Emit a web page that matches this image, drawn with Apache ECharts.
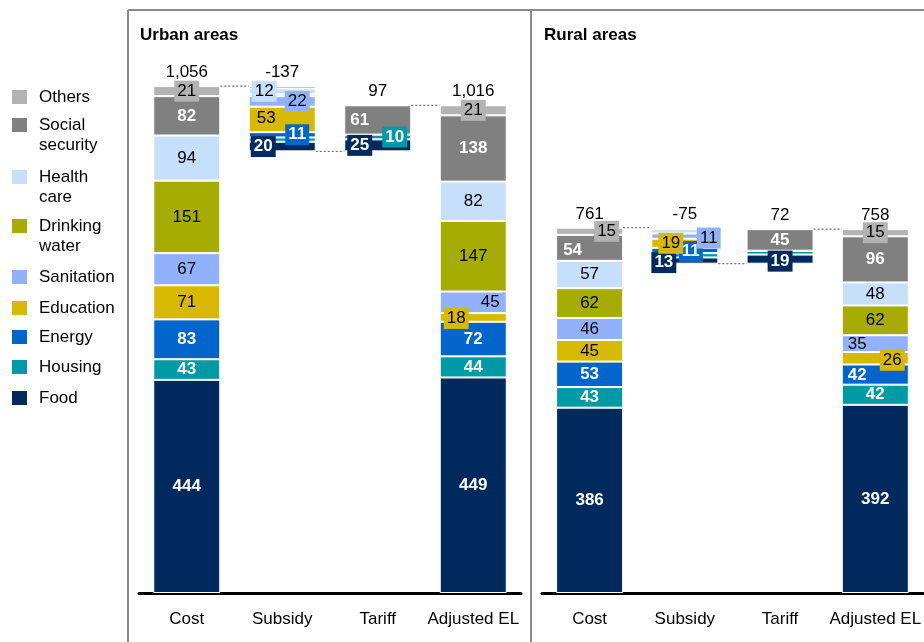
<!DOCTYPE html>
<html>
<head>
<meta charset="utf-8">
<title>Urban and rural areas</title>
<script src="https://cdn.jsdelivr.net/npm/echarts@6/dist/echarts.min.js"></script>
<style>
  html, body { margin: 0; padding: 0; background: #fff; }
  #chart { width: 924px; height: 642px; }
</style>
</head>
<body>
<div id="chart"></div>
<script>
// x axis categories
var columns = ['Cost', 'Subsidy', 'Tariff', 'Adjusted EL'];
// stack order, bottom to top
var segments = ['Food', 'Housing', 'Energy', 'Education', 'Sanitation', 'Drinking water', 'Health care', 'Social security', 'Others'];

// urban areas, one value per segment
var urbanCost     = [444, 43, 83, 71, 67, 151, 94, 82, 21];
var urbanSubsidy  = [20, 9, 11, 53, 22, 4, 12, 5, 0];
var urbanTariff   = [25, 10, 0, 0, 0, 0, 0, 61, 0];
var urbanAdjusted = [449, 44, 72, 18, 45, 147, 82, 138, 21];
var urbanTotals   = [1056, -137, 97, 1016];

// rural areas
var ruralCost     = [386, 43, 53, 45, 46, 62, 57, 54, 15];
var ruralSubsidy  = [13, 9, 11, 19, 11, 0, 9, 3, 0];
var ruralTariff   = [19, 8, 0, 0, 0, 0, 0, 45, 0];
var ruralAdjusted = [392, 42, 42, 26, 35, 62, 48, 96, 15];
var ruralTotals   = [761, -75, 72, 758];

var FONT = '"Liberation Sans", Arial, sans-serif';
var BAR_W = 67;

var colors = {
  'Food': '#002a5e',
  'Housing': '#009aa6',
  'Energy': '#0066cc',
  'Education': '#d6b900',
  'Sanitation': '#92b1fc',
  'Drinking water': '#a6ac00',
  'Health care': '#c6e0fb',
  'Social security': '#808080',
  'Others': '#b3b3b3'
};
// white bold labels on these
var darkSegments = ['Food', 'Housing', 'Energy', 'Social security'];

// label nudges: [dx, dy, boxed]. cost / adjusted labels not listed sit centred,
// subsidy / tariff labels not listed are not shown
var labelPlace = {
  'u|0|Others': [0, 0, true],
  'u|1|Food': [-19, 0, true],
  'u|1|Energy': [15, 0, true],
  'u|1|Education': [-16, -1, false],
  'u|1|Sanitation': [15, 0, true],
  'u|1|Health care': [-18, 0, true],
  'u|2|Food': [-18, 0, true],
  'u|2|Housing': [17, 0, true],
  'u|2|Social security': [-18, 0, false],
  'u|3|Education': [-17, 1, true],
  'u|3|Sanitation': [17, 0, false],
  'u|3|Others': [0, 0, true],
  'r|0|Social security': [-17, 2, false],
  'r|0|Others': [17, 0, true],
  'r|1|Food': [-21, 2, true],
  'r|1|Energy': [6, 1, true],
  'r|1|Education': [-14, 0, true],
  'r|1|Sanitation': [24, 2, true],
  'r|2|Food': [0, 2, true],
  'r|2|Social security': [0, 0, false],
  'r|3|Energy': [-18, 1, false],
  'r|3|Education': [17, 2, true],
  'r|3|Sanitation': [-18, 1, false],
  'r|3|Others': [0, 0, true]
};

function sum(arr) {
  return arr.reduce(function (a, b) { return a + b; }, 0);
}

function makeLabel(key, c, seg, v) {
  var place = labelPlace[key + '|' + c + '|' + seg];
  var edge = c === 0 || c === 3;
  if (!v || (!place && !edge)) return { show: false };
  place = place || [0, 0, false];
  var dark = darkSegments.indexOf(seg) >= 0;
  var lab = {
    show: true,
    position: 'inside',
    offset: [place[0], place[1]],
    color: dark ? '#fff' : '#000',
    fontWeight: dark ? 'bold' : 'normal',
    fontSize: 17,
    fontFamily: FONT
  };
  if (place[2]) {
    lab.backgroundColor = colors[seg];
    lab.padding = [2, 3];
  }
  return lab;
}

function panelSeries(p, key, cost, subsidy, tariff, adjusted, totals) {
  var costSum = sum(cost);
  var floor = costSum - sum(subsidy);   // bottom of the floating subsidy / tariff bars
  var tarTop = floor + sum(tariff);
  var adjSum = sum(adjusted);
  var list = [];

  // invisible base that lifts the floating bars
  list.push({
    type: 'bar', name: 'base', stack: key, xAxisIndex: p, yAxisIndex: p,
    barWidth: BAR_W, silent: true,
    itemStyle: { color: 'transparent' },
    data: [0, floor, floor, 0]
  });

  segments.forEach(function (seg, s) {
    var vals = [cost[s], subsidy[s], tariff[s], adjusted[s]];
    list.push({
      type: 'bar', name: seg, stack: key, xAxisIndex: p, yAxisIndex: p,
      barWidth: BAR_W,
      itemStyle: { color: colors[seg], borderColor: '#fff', borderWidth: 1 },
      data: vals.map(function (v, c) {
        return { value: v, label: makeLabel(key, c, seg, v) };
      })
    });
  });

  // totals above each bar
  list.push({
    type: 'scatter', name: 'total', xAxisIndex: p, yAxisIndex: p,
    symbolSize: 0, silent: true,
    itemStyle: { opacity: 1 },
    data: [[0, costSum], [1, costSum], [2, tarTop], [3, adjSum]],
    label: {
      show: true, position: 'top', distance: 5,
      fontSize: 17, color: '#000', fontFamily: FONT,
      formatter: function (prm) { return totals[prm.dataIndex].toLocaleString('en-US'); }
    }
  });

  // dotted connectors between bar edges
  list.push({
    type: 'custom', xAxisIndex: p, yAxisIndex: p, silent: true, z: 5,
    encode: { x: [0, 1], y: 2 },
    data: [[0, 1, costSum], [1, 2, floor], [2, 3, tarTop]],
    renderItem: function (params, api) {
      var a = api.coord([api.value(0), api.value(2)]);
      var b = api.coord([api.value(1), api.value(2)]);
      return {
        type: 'line',
        shape: { x1: a[0] + BAR_W / 2, y1: a[1], x2: b[0] - BAR_W / 2, y2: b[1] },
        style: { stroke: '#555', lineWidth: 1, lineDash: [2, 2] }
      };
    }
  });
  return list;
}

// legend item centres (y), top to bottom
var legendOrder = ['Others', 'Social security', 'Health care', 'Drinking water', 'Sanitation', 'Education', 'Energy', 'Housing', 'Food'];
var legendY = { 'Others': 97, 'Social security': 125, 'Health care': 177, 'Drinking water': 226, 'Sanitation': 277, 'Education': 308, 'Energy': 337, 'Housing': 367, 'Food': 398 };

var legends = legendOrder.map(function (name) {
  var multi = name.indexOf(' ') > 0;
  return {
    data: [name],
    orient: 'vertical',
    left: 10,
    top: legendY[name] - (multi ? 30 : 10),
    padding: 0,
    itemWidth: 17,
    itemHeight: 16,
    icon: 'rect',
    // leading blank line keeps the square level with the first line
    formatter: multi ? '\n' + name.replace(' ', '\n') : name,
    textStyle: { fontSize: 17, lineHeight: 20, color: '#000', fontFamily: FONT, padding: [0, 0, 0, 6] }
  };
});

function xAxisFor(p) {
  return {
    type: 'category', gridIndex: p, data: columns,
    axisTick: { show: false },
    axisLine: { lineStyle: { color: '#000', width: 3 } },
    axisLabel: { interval: 0, fontSize: 17, color: '#000', margin: 18, fontFamily: FONT }
  };
}

function yAxisFor(p) {
  return { type: 'value', gridIndex: p, min: 0, max: 1152, show: false };
}

var borderStyle = { stroke: '#8a8a8a', lineWidth: 2 };

var option = {
  animation: false,
  backgroundColor: '#fff',
  textStyle: { fontFamily: FONT },
  title: [
    { text: 'Urban areas', left: 140, top: 27, padding: 0, textStyle: { fontSize: 17, fontWeight: 'bold', color: '#000', fontFamily: FONT } },
    { text: 'Rural areas', left: 544, top: 27, padding: 0, textStyle: { fontSize: 17, fontWeight: 'bold', color: '#000', fontFamily: FONT } }
  ],
  legend: legends,
  grid: [
    { left: 139, width: 382, top: 40, bottom: 49 },
    { left: 542, width: 382, top: 40, bottom: 49 }
  ],
  xAxis: [xAxisFor(0), xAxisFor(1)],
  yAxis: [yAxisFor(0), yAxisFor(1)],
  graphic: [
    { type: 'line', silent: true, shape: { x1: 128, y1: 10, x2: 924, y2: 10 }, style: borderStyle },
    { type: 'line', silent: true, shape: { x1: 128, y1: 10, x2: 128, y2: 642 }, style: borderStyle },
    { type: 'line', silent: true, shape: { x1: 531, y1: 10, x2: 531, y2: 642 }, style: borderStyle }
  ],
  series: panelSeries(0, 'u', urbanCost, urbanSubsidy, urbanTariff, urbanAdjusted, urbanTotals)
    .concat(panelSeries(1, 'r', ruralCost, ruralSubsidy, ruralTariff, ruralAdjusted, ruralTotals))
};

var chart = echarts.init(document.getElementById('chart'));
chart.setOption(option);
</script>
</body>
</html>
